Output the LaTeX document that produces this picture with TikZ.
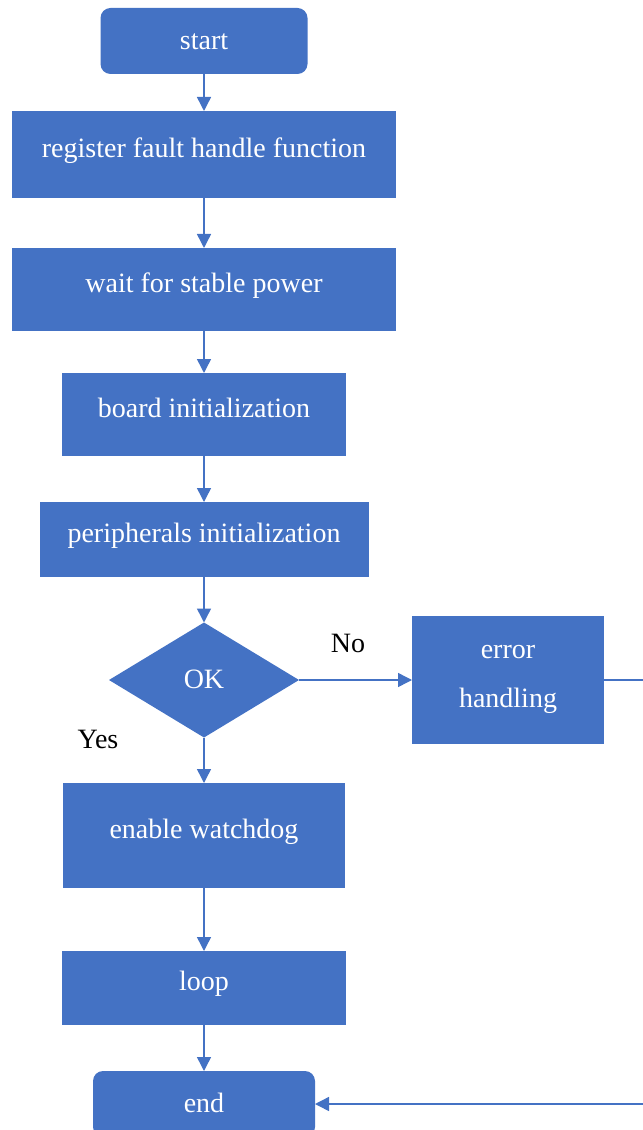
\documentclass[tikz,border=0pt]{standalone}
\usepackage{fontspec}
\setmainfont{Liberation Serif}
\newfontfamily\flowfont{Liberation Serif}
\usetikzlibrary{shapes.geometric,arrows.meta}
\definecolor{boxblue}{HTML}{4472C4}
\begin{document}
\begin{tikzpicture}[x=0.75pt,y=-0.75pt,
  font=\flowfont\fontsize{21pt}{25pt}\selectfont,
  blk/.style={fill=boxblue,draw=none,inner sep=0pt,outer sep=0pt},
  rbox/.style={blk,rectangle},
  term/.style={blk,rectangle,rounded corners=7.5pt},
  dia/.style={blk,diamond},
  wtxt/.style={text=white,anchor=base,inner sep=0pt},
  btxt/.style={text=black,anchor=base,inner sep=0pt},
  flow/.style={draw=boxblue,line width=1.1pt,-{Triangle[length=10.5pt,width=10.5pt]}}]
\useasboundingbox (0,0) rectangle (642,1130);

% boxes (centre and size in pixels)
\node[term, minimum width=155.25pt, minimum height=49.5pt] (start) at (204,41) {};
\node[rbox, minimum width=288pt, minimum height=65.25pt] (reg) at (204,154.5) {};
\node[rbox, minimum width=288pt, minimum height=62.25pt] (wait) at (204,289.5) {};
\node[rbox, minimum width=213pt, minimum height=62.25pt] (board) at (204,414.5) {};
\node[rbox, minimum width=246.75pt, minimum height=56.25pt] (peri) at (204,539.5) {};
\node[dia, minimum width=142.5pt, minimum height=86.25pt] (ok) at (204,680) {};
\node[rbox, minimum width=144pt, minimum height=96pt] (err) at (508,680) {};
\node[rbox, minimum width=211.5pt, minimum height=78.75pt] (wdog) at (204,835.5) {};
\node[rbox, minimum width=213pt, minimum height=55.5pt] (loop) at (204,988) {};
\node[term, minimum width=166.5pt, minimum height=49.5pt] (end) at (204,1104) {};

% box texts
\node[wtxt] (tstart) at (204,49.5) {start};
\node[wtxt] (treg) at (204,157.5) {register fault handle function};
\node[wtxt] (twait) at (204,292.5) {wait for stable power};
\node[wtxt] (tboard) at (204,417.5) {board initialization};
\node[wtxt] (tperi) at (204,542.5) {peripherals initialization};
\node[wtxt] (tok) at (204,688.5) {OK};
\node[wtxt] (terr1) at (508,658.5) {error};
\node[wtxt] (terr2) at (508,707.5) {handling};
\node[wtxt] (twdog) at (204,838.5) {enable watchdog};
\node[wtxt] (tloop) at (204,990.5) {loop};
\node[wtxt] (tend) at (204,1112.5) {end};

% branch labels
\node[btxt] (lno) at (348,652.5) {No};
\node[btxt] (lyes) at (98,748.5) {Yes};

% connectors
\draw[flow] (start) -- (reg);
\draw[flow] (reg) -- (wait);
\draw[flow] (wait) -- (board);
\draw[flow] (board) -- (peri);
\draw[flow] (peri) -- (ok);
\draw[flow] (ok) -- (wdog);
\draw[flow] (ok.east) -- (err.west);
\draw[flow] (wdog) -- (loop);
\draw[flow] (loop) -- (end);
\coordinate (r1) at (652,680);
\coordinate (r2) at (652,1104);
\draw[flow] (err.east) -- (r1) -- (r2) -- (end.east);
\end{tikzpicture}
\end{document}
